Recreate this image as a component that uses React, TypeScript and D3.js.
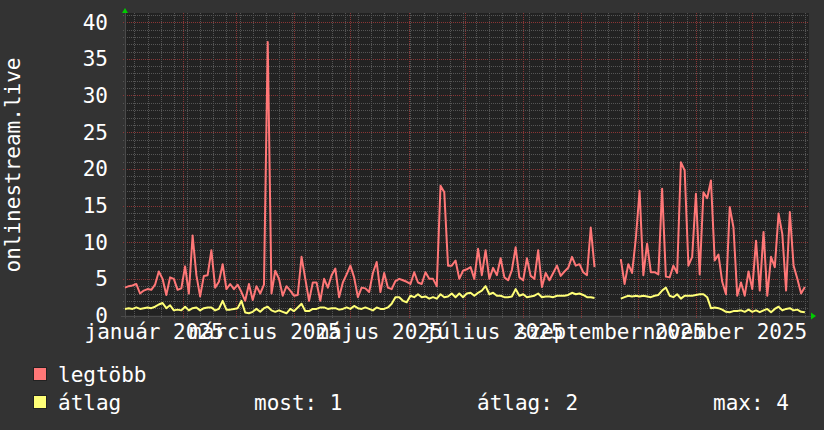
import * as d3 from "d3";
import { useEffect, useRef } from "react";

// one value every 2 days, starting 2025-01-01 (null = no data)
const startDate = new Date(2025, 0, 1);
const endDate = new Date(2025, 11, 31, 5);
const stepDays = 2;

const legtobbValues = [
  3.8, 4.0, 4.1, 4.3, 3.0, 3.4, 3.6, 3.5, 4.2, 6.0,
  5.0, 2.8, 5.2, 5.0, 3.5, 3.7, 6.7, 3.0, 10.9, 5.5,
  2.6, 5.4, 5.5, 8.9, 3.8, 4.6, 7.0, 3.6, 4.3, 3.6,
  4.2, 3.2, 2.0, 4.3, 2.1, 4.0, 3.0, 4.2, 37.3, 3.0,
  6.1, 5.0, 2.7, 4.0, 3.4, 2.7, 2.8, 8.0, 5.0, 2.0,
  4.5, 4.5, 2.0, 5.0, 3.8, 5.5, 6.4, 2.5, 4.5, 5.6,
  6.8, 5.2, 2.5, 3.8, 3.7, 3.2, 5.8, 7.3, 3.2, 5.8,
  3.8, 3.6, 4.7, 5.0, 4.8, 4.6, 4.3, 5.9, 4.5, 4.3,
  5.9, 5.0, 5.0, 4.0, 17.7, 16.8, 6.8, 6.8, 7.5, 5.0,
  6.1, 6.3, 6.6, 5.0, 9.1, 5.5, 8.9, 5.0, 6.5, 5.5,
  7.8, 5.2, 4.8, 6.2, 9.3, 5.2, 4.8, 7.8, 5.4, 5.0,
  8.9, 3.9, 5.8, 4.8, 5.8, 6.8, 5.4, 6.0, 6.5, 8.0,
  6.8, 7.0, 5.9, 5.5, 12.0, 6.6, null, null, null, null,
  null, null, 7.7, 4.3, 7.0, 5.8, 10.5, 17.0, 5.5, 9.8,
  5.9, 5.9, 5.6, 17.3, 5.3, 5.2, 6.8, 5.8, 20.9, 19.8,
  6.8, 8.0, 16.6, 5.6, 16.8, 16.0, 18.4, 7.5, 8.3, 4.6,
  2.9, 14.8, 12.0, 2.7, 4.5, 2.7, 6.0, 3.6, 10.2, 3.4,
  11.4, 2.7, 8.0, 6.6, 13.9, 11.1, 3.4, 14.1, 6.8, 5.0,
  3.0, 3.9,
];

const atlagValues = [
  0.9, 1.0, 0.9, 1.1, 0.9, 1.0, 1.1, 1.0, 1.2, 1.5,
  1.7, 1.0, 1.4, 0.7, 0.8, 0.7, 1.2, 0.7, 1.0, 1.1,
  0.7, 1.0, 1.1, 1.1, 0.7, 0.9, 2.0, 0.8, 0.8, 0.9,
  1.0, 2.0, 0.4, 0.3, 0.5, 0.9, 0.5, 1.0, 1.2, 0.7,
  0.5, 0.7, 0.5, 0.3, 0.9, 0.6, 1.1, 1.6, 0.6, 0.6,
  0.9, 0.9, 1.1, 1.1, 0.9, 1.0, 1.0, 0.8, 0.9, 1.1,
  0.9, 1.3, 1.0, 0.9, 1.1, 0.9, 0.7, 1.1, 0.9, 0.9,
  1.1, 1.6, 2.5, 2.5, 2.0, 1.8, 2.7, 2.5, 2.9, 2.5,
  2.6, 2.3, 2.5, 2.3, 2.9, 2.5, 2.6, 3.0, 2.5, 3.0,
  2.5, 3.0, 3.1, 2.7, 3.1, 3.4, 4.0, 2.9, 3.1, 2.7,
  2.7, 2.5, 2.5, 2.6, 3.6, 2.7, 2.9, 2.5, 2.6, 2.7,
  3.0, 2.5, 2.6, 2.6, 2.5, 2.7, 2.7, 2.7, 2.8, 3.1,
  2.9, 3.0, 2.8, 2.5, 2.5, 2.4, null, null, null, null,
  null, null, 2.3, 2.5, 2.7, 2.6, 2.7, 2.6, 2.7, 2.6,
  2.5, 2.7, 2.8, 3.4, 3.8, 2.7, 2.5, 2.9, 2.3, 2.7,
  2.7, 2.7, 2.8, 2.9, 2.9, 2.5, 1.0, 1.1, 1.0, 0.8,
  0.5, 0.45, 0.6, 0.6, 0.7, 0.5, 0.8, 0.5, 0.7, 0.45,
  0.7, 0.9, 0.45, 0.9, 1.2, 0.7, 0.9, 1.0, 0.7, 0.8,
  0.5, 0.45,
];

const yTickValues = [0, 5, 10, 15, 20, 25, 30, 35, 40];
const labelMonths = [0, 2, 4, 6, 8, 10];
const labelTexts = ["január 2025", "március 2025", "május 2025", "július 2025", "szeptember 2025", "november 2025"];

const seriesNames = ["legtöbb", "átlag"];
const seriesColors = ["#ff7777", "#ffff77"];
const statTexts = ["most: 1", "átlag: 2", "max: 4"];

const FONT = "'DejaVu Sans Mono', monospace";

const App = () => {
  const ref = useRef<SVGSVGElement>(null);

  useEffect(() => {
    const svg = d3.select(ref.current);
    svg.selectAll("*").remove();

    const left = 125, right = 809, top = 13, bottom = 315.5;
    const xScale = d3.scaleTime().domain([startDate, endDate]).range([left, right]);
    const yScale = d3.scaleLinear().domain([0, 41.25]).range([bottom, top]);
    const px = (v: number) => Math.round(v) + 0.5;

    // background
    svg.append("rect").attr("width", 824).attr("height", 430).attr("fill", "#333333");
    svg.append("rect")
      .attr("x", left).attr("y", top)
      .attr("width", right - left).attr("height", bottom - top)
      .attr("fill", "#222222");

    const grid = svg.append("g").attr("stroke-width", 1).attr("stroke-dasharray", "1,1");

    // horizontal grid: minor every 1, major every 5
    d3.range(1, 42).filter((v) => v % 5 !== 0).forEach((v) => {
      grid.append("line")
        .attr("x1", left - 2).attr("x2", right)
        .attr("y1", px(yScale(v))).attr("y2", px(yScale(v)))
        .attr("stroke", "#555555");
    });
    yTickValues.forEach((v) => {
      grid.append("line")
        .attr("x1", left - 2).attr("x2", right)
        .attr("y1", px(yScale(v))).attr("y2", px(yScale(v)))
        .attr("stroke", "#8a3535");
    });

    // vertical grid: weeks (minor) and months (major)
    const months = d3.timeMonth.range(startDate, endDate);
    const monthSet = new Set(months.map((d) => +d3.timeDay.floor(d)));
    d3.timeMonday.range(startDate, endDate)
      .filter((d) => !monthSet.has(+d))
      .forEach((d) => {
        grid.append("line")
          .attr("x1", px(xScale(d))).attr("x2", px(xScale(d)))
          .attr("y1", top).attr("y2", bottom + 3)
          .attr("stroke", "#555555");
      });
    months.forEach((d) => {
      grid.append("line")
        .attr("x1", px(xScale(d))).attr("x2", px(xScale(d)))
        .attr("y1", top).attr("y2", bottom + 3)
        .attr("stroke", "#8a3535");
    });

    // axes
    svg.append("line")
      .attr("x1", left - 4).attr("x2", right + 2)
      .attr("y1", px(bottom)).attr("y2", px(bottom))
      .attr("stroke", "#4a4a4a");
    svg.append("line")
      .attr("x1", px(left)).attr("x2", px(left))
      .attr("y1", top).attr("y2", bottom + 3)
      .attr("stroke", "#4a4a4a");
    svg.append("path").attr("d", "M122,13L128,13L125,8Z").attr("fill", "#00cc00");
    svg.append("path").attr("d", "M811,312.5L811,319.5L816,316Z").attr("fill", "#00cc00");

    // series
    const dates = legtobbValues.map((_, i) => d3.timeDay.offset(startDate, i * stepDays));
    const line = d3.line<number | null>()
      .defined((d) => d != null)
      .x((_, i) => xScale(dates[i]))
      .y((d) => yScale(d as number));

    [legtobbValues, atlagValues].forEach((vals, k) => {
      svg.append("path")
        .datum(vals)
        .attr("d", line)
        .attr("fill", "none")
        .attr("stroke", seriesColors[k])
        .attr("stroke-width", 2)
        .attr("stroke-linejoin", "round");
    });

    // y tick labels
    svg.append("g")
      .selectAll("text")
      .data(yTickValues)
      .join("text")
      .attr("x", 108)
      .attr("y", (d) => yScale(d) + 7.5)
      .attr("text-anchor", "end")
      .attr("font-family", FONT)
      .attr("font-size", 21)
      .attr("fill", "#ffffff")
      .text((d) => d);

    // x labels, centred half a month after the month start
    svg.append("g")
      .selectAll("text")
      .data(labelMonths)
      .join("text")
      .attr("x", (m) => xScale(d3.timeHour.offset(new Date(2025, m, 1), 15 * 24 + 12)))
      .attr("y", 338.5)
      .attr("text-anchor", "middle")
      .attr("font-family", FONT)
      .attr("font-size", 21)
      .attr("fill", "#ffffff")
      .text((_, i) => labelTexts[i]);

    // y axis title
    svg.append("text")
      .attr("transform", "translate(20,165) rotate(-90)")
      .attr("text-anchor", "middle")
      .attr("font-family", FONT)
      .attr("font-size", 21)
      .attr("fill", "#ffffff")
      .text("onlinestream.live");

    // legend
    seriesNames.forEach((name, k) => {
      const by = 381.5 + k * 28;
      svg.append("rect")
        .attr("x", 33.5).attr("y", by - 14)
        .attr("width", 13).attr("height", 13)
        .attr("fill", seriesColors[k])
        .attr("stroke", "#222222");
      svg.append("text")
        .attr("x", 58).attr("y", by)
        .attr("font-family", FONT).attr("font-size", 21)
        .attr("fill", "#ffffff")
        .text(name);
    });
    const statX = [254, 477, 713];
    statTexts.forEach((t, i) => {
      svg.append("text")
        .attr("x", statX[i]).attr("y", 409.5)
        .attr("font-family", FONT).attr("font-size", 21)
        .attr("fill", "#ffffff")
        .text(t);
    });
  }, []);

  return (
    <svg
      ref={ref}
      width={824}
      height={430}
      style={{ position: "absolute", left: 0, top: 0, display: "block" }}
    />
  );
};

export default App;
